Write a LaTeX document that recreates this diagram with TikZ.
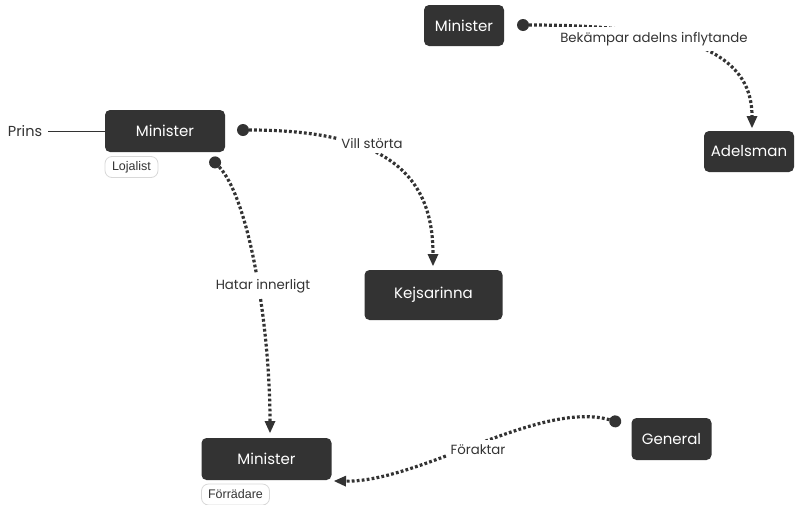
\documentclass[tikz,border=0pt]{standalone}
\usepackage{fontspec}
\setmainfont{Poppins}
\newfontfamily\tagfont{Liberation Sans}
\usetikzlibrary{arrows.meta}
\definecolor{nodebg}{HTML}{333333}
\definecolor{tagborder}{HTML}{D8D8D8}
\tikzset{
  box/.style={fill=nodebg, rounded corners=5pt, text=white, inner sep=0pt,
    font=\fontsize{15}{18}\selectfont},
  tagbox/.style={draw=tagborder, line width=0.8pt, rounded corners=7pt, fill=white,
    text=nodebg, inner sep=0pt, font=\tagfont\fontsize{12.5}{14}\selectfont},
  rel/.style={line width=3.2pt, draw=nodebg, dash pattern=on 2.8pt off 2.2pt,
    {Circle[length=12pt,width=12pt,line width=0pt,fill=nodebg]}-{Triangle[length=12pt,width=11pt,line width=0pt]}},
  rellabel/.style={fill=white, text=nodebg, inner xsep=4pt, inner ysep=5pt,
    font=\fontsize{13.3}{16}\selectfont},
}
\begin{document}
\begin{tikzpicture}[x=1pt,y=-1pt]
\useasboundingbox (0,0) rectangle (795,504);
% nodes
\node[box, minimum width=80pt, minimum height=41pt] (mtop) at (464,25.5) {Minister};
\node[box, minimum width=90pt, minimum height=41pt] (adel) at (749,151.5) {Adelsman};
\node[box, minimum width=120pt, minimum height=42pt] (mleft) at (165,131) {Minister};
\node[box, minimum width=138pt, minimum height=50pt] (kejs) at (433.5,295) {Kejsarinna};
\node[box, minimum width=130pt, minimum height=42pt] (mbot) at (266.5,459) {Minister};
\node[box, minimum width=80pt, minimum height=42pt] (gen) at (671.5,439) {General};
% tags
\node[tagbox, minimum width=53pt, minimum height=21pt] (loj) at (131.5,167) {Lojalist};
\node[tagbox, minimum width=68pt, minimum height=21pt] (forr) at (235.5,494.5) {Förrädare};
% Prins
\node[text=nodebg, inner sep=0pt, font=\fontsize{14.5}{17}\selectfont] (prins) at (25,131) {Prins};
\draw[nodebg, line width=0.9pt] (prins.east) ++(6pt,0) coordinate (pe) -- (mleft.west);
% anchors
\coordinate (s1) at (517,25);
\coordinate (e1) at (752,128);
\coordinate (s2) at (237,130);
\coordinate (e2) at (433,266);
\coordinate (s3) at (211,158);
\coordinate (e3) at (270,433);
\coordinate (s4) at (621,423);
\coordinate (e4) at (334,481);
% connectors
\draw[rel] (s1) .. controls (680,25) and (752,50) .. (e1);
\draw[rel] (s2) .. controls (380,130) and (433,170) .. (e2);
\draw[rel] (s3) .. controls (250,200) and (270,330) .. (e3);
\draw[rel] (s4) .. controls (540,400) and (420,482) .. (e4);
% labels
\node[rellabel] (l1) at (654,39) {Bekämpar adelns inflytande};
\node[rellabel] (l2) at (372,143) {Vill störta};
\node[rellabel] (l3) at (263,286) {Hatar innerligt};
\node[rellabel] (l4) at (478,450) {Föraktar};
\end{tikzpicture}
\end{document}
